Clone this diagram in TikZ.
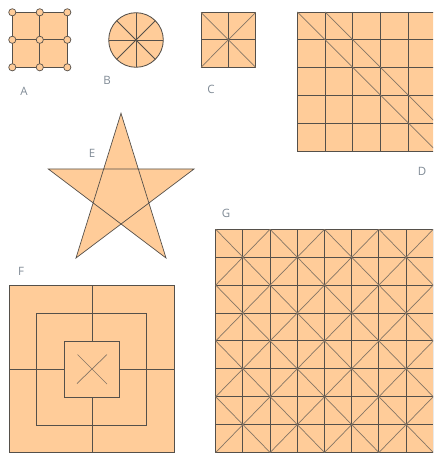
\documentclass[tikz,border=0pt]{standalone}
\usepackage{fontspec}
\setmainfont{Open Sans}
\definecolor{peach}{HTML}{FFCC99}
\definecolor{edge}{HTML}{55504A}
\definecolor{diag}{HTML}{857565}
\definecolor{lab}{HTML}{7F8A95}
\begin{document}
\begin{tikzpicture}[x=1pt,y=-1pt,
  fig/.style={fill=peach,draw=edge,line width=0.85pt},
  ln/.style={draw=edge,line width=0.85pt},
  dg/.style={draw=diag,line width=0.7pt},
  lbl/.style={text=lab,font=\fontsize{11.5}{13}\selectfont,inner sep=0pt}]
\useasboundingbox (0,0) rectangle (433,454);
\clip (0,0) rectangle (433,454);
% ---- A
\draw[fig] (12.3,12.3) rectangle (67.3,67.3);
\draw[ln] (39.8,12.3) -- (39.8,67.3) (12.3,39.8) -- (67.3,39.8);
\foreach \x in {12.3,39.8,67.3}
  \foreach \y in {12.3,39.8,67.3}
    \draw[fig,line width=0.7pt] (\x,\y) circle (3.6);
\node[lbl] (la) at (24,91) {A};
% ---- B
\draw[fig] (136,40) circle (27.3);
\foreach \a in {0,45,90,135}
  \draw[ln] (136,40) ++(\a:27.3) -- ++(\a+180:54.6);
\node[lbl] (lb) at (107,80) {B};
% ---- C
\draw[fig] (201,12.3) rectangle (255.7,67.3);
\draw[ln] (228.35,12.3) -- (228.35,67.3) (201,39.8) -- (255.7,39.8);
\draw[dg] (201,12.3) -- (255.7,67.3) (201,67.3) -- (255.7,12.3);
\node[lbl] (lc) at (211,89) {C};
% ---- D
\begin{scope}[shift={(297.3,12)},x=27.8pt,y=-27.8pt]
  \fill[peach] (0,0) rectangle (5,5);
  \foreach \i in {0,...,5} {
    \draw[ln] (\i,0) -- (\i,5);
    \draw[ln] (0,\i) -- (5,\i);
  }
  \draw[dg] (0,0) -- (5,5) (1,0) -- (5,4);
\end{scope}
\node[lbl] (ld) at (422,171) {D};
% ---- E
\coordinate (et) at (121,113.3);
\coordinate (el) at (48.3,169);
\coordinate (er) at (194,169);
\coordinate (ebl) at (76,258);
\coordinate (ebr) at (166,258);
\draw[fig,line width=0.7pt,line join=miter] (et) -- (ebl) -- (er) -- (el) -- (ebr) -- cycle;
\node[lbl] (le) at (92,153) {E};
% ---- F
\draw[fig] (9.3,285.7) rectangle (174,452.7);
\draw[ln] (36.7,313.3) rectangle (146.7,425);
\draw[ln] (64.3,341) rectangle (119.3,397);
\draw[ln] (92,285.7) -- (92,341) (92,397) -- (92,452.7);
\draw[ln] (9.3,369) -- (64.3,369) (119.3,369) -- (174,369);
\draw[dg] (77.5,354.5) -- (107,384) (77,383.5) -- (107,354.5);
\node[lbl] (lf) at (21,271) {F};
% ---- G
\begin{scope}[shift={(215.7,229.3)},x=27.2pt,y=-27.9pt]
  \fill[peach] (0,0) rectangle (8,8);
  \foreach \i in {0,...,8} {
    \draw[ln] (\i,0) -- (\i,8);
    \draw[ln] (0,\i) -- (8,\i);
  }
  \foreach \i in {0,...,7}
    \foreach \j in {0,...,7} {
      \pgfmathtruncatemacro{\s}{mod(\i+\j,2)}
      \ifnum\s=0
        \draw[dg] (\i,\j) -- (\i+1,\j+1);
      \else
        \draw[dg] (\i,\j+1) -- (\i+1,\j);
      \fi
    }
\end{scope}
\node[lbl] (lg) at (226,213.7) {G};
\end{tikzpicture}
\end{document}
